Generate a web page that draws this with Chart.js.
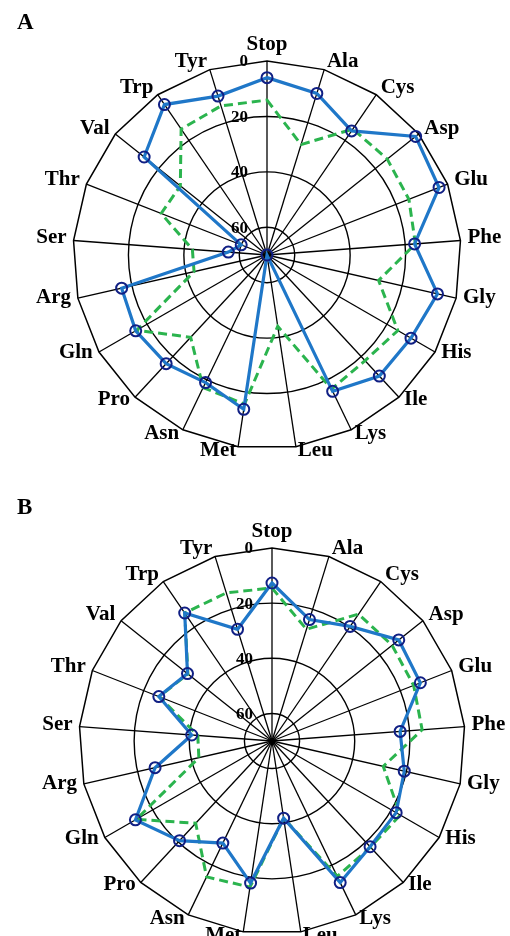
<!DOCTYPE html>
<html>
<head>
<meta charset="utf-8">
<script src="https://cdn.jsdelivr.net/npm/chart.js@4"></script>
<style>
    body { margin: 0; background: #fff; }
    .panel { position: absolute; left: 0; width: 510px; }
    #panelA { top: 0; height: 486px; }
    #panelB { top: 486px; height: 450px; }
</style>
</head>
<body>
<div class="panel" id="panelA"><canvas id="chartA" width="510" height="486"></canvas></div>
<div class="panel" id="panelB"><canvas id="chartB" width="510" height="450"></canvas></div>
<script>
/* =========================
   DATA
========================= */

const aminoAcids = ["Stop", "Ala", "Cys", "Asp", "Glu", "Phe", "Gly", "His", "Ile", "Lys", "Leu",
                    "Met", "Asn", "Pro", "Gln", "Arg", "Ser", "Thr", "Val", "Trp", "Tyr"];
const radialTicks = [0, 20, 40, 60];

// panel A
const blueA  = [6, 9, 15.8, 1.4, 3.3, 16.6, 6.9, 10, 10.4, 15.4, 70, 13.7, 18.9, 16.5, 15.3, 16.2, 56, 60, 13.3, 4.3, 10];
const greenA = [14.1, 28.3, 15, 14.5, 15, 16.3, 28.7, 15.5, 18, 16.3, 44, 15.6, 16.9, 29.5, 15.7, 43, 43, 29, 30, 15, 13.7];

// panel B
const blueB  = [12.7, 23.9, 19.7, 11.2, 12.2, 23.4, 20.8, 18, 17.7, 13, 41.7, 17.9, 28.9, 20.7, 12.8, 26.5, 40.8, 25.9, 30.8, 13.8, 27.6];
const greenB = [14.5, 27.6, 14.3, 14.3, 14.8, 15.4, 28.6, 16.3, 17.5, 15.5, 41.7, 16.4, 15.3, 29.3, 13.2, 42.8, 43, 26, 31, 13.8, 13.8];

/* =========================
   FRAME + TEXT PLUGIN
========================= */

const SERIF = "'Liberation Serif', 'Times New Roman', serif";

const polarDecor = {
    id: "polarDecor",
    beforeDatasetsDraw(chart) {
        const scale = chart.scales.r;
        const ctx = chart.ctx;
        ctx.save();

        // outer polygon
        ctx.beginPath();
        aminoAcids.forEach((_, i) => {
            const p = scale.getPointPosition(i, scale.drawingArea);
            if (i === 0) ctx.moveTo(p.x, p.y);
            else ctx.lineTo(p.x, p.y);
        });
        ctx.closePath();
        ctx.strokeStyle = "#000";
        ctx.lineWidth = 1.5;
        ctx.stroke();

        // small dot where the spokes meet
        ctx.beginPath();
        ctx.arc(scale.xCenter, scale.yCenter, 3, 0, Math.PI * 2);
        ctx.fillStyle = "#000";
        ctx.fill();

        // radial tick labels
        ctx.font = "bold 17px " + SERIF;
        ctx.textAlign = "right";
        ctx.textBaseline = "middle";
        radialTicks.forEach(v => {
            const d = scale.getDistanceFromCenterForValue(v);
            ctx.fillText(String(v), scale.xCenter - 19, scale.yCenter - d + 1);
        });

        ctx.restore();
    },
    afterDraw(chart, args, opts) {
        const scale = chart.scales.r;
        const ctx = chart.ctx;
        ctx.save();
        ctx.fillStyle = "#000";

        // category labels
        ctx.font = "bold 21px " + SERIF;
        aminoAcids.forEach((name, i) => {
            const p = scale.getPointPosition(i, scale.drawingArea + 6);
            if (i === 0) {
                ctx.textAlign = "center";
                ctx.textBaseline = "bottom";
                ctx.fillText(name, p.x, p.y);
                return;
            }
            ctx.textBaseline = "middle";
            if (p.x > scale.xCenter) {
                ctx.textAlign = "left";
                ctx.fillText(name, p.x + 1, p.y - 2);
            } else {
                ctx.textAlign = "right";
                ctx.fillText(name, p.x - 1, p.y - 2);
            }
        });

        // panel letter
        ctx.font = "bold 23px " + SERIF;
        ctx.textAlign = "left";
        ctx.textBaseline = "alphabetic";
        ctx.fillText(opts.letter, 17, opts.letterY);

        ctx.restore();
    }
};

/* =========================
   CHARTS
========================= */

function makeRadar(id, blue, green, pad, letter, letterY) {
    return new Chart(document.getElementById(id), {
        type: "radar",
        data: {
            labels: aminoAcids,
            datasets: [{
                label: "blue",
                data: blue,
                borderColor: "#1f77c8",
                borderWidth: 3.2,
                fill: false,
                tension: 0,
                pointRadius: 5.5,
                pointBorderWidth: 2,
                pointBorderColor: "#101f84",
                pointBackgroundColor: "rgba(0,0,0,0)"
            }, {
                label: "green",
                data: green,
                borderColor: "#2bb44e",
                borderWidth: 3,
                borderDash: [9, 5],
                fill: false,
                tension: 0,
                pointRadius: 0
            }]
        },
        options: {
            responsive: false,
            devicePixelRatio: 1,
            animation: false,
            events: [],
            layout: { padding: pad },
            plugins: {
                legend: { display: false },
                tooltip: { enabled: false },
                polarDecor: { letter: letter, letterY: letterY }
            },
            scales: {
                r: {
                    min: 0,
                    max: 70,
                    reverse: true,
                    ticks: { display: false, stepSize: 20 },
                    pointLabels: { display: false },
                    grid: {
                        circular: true,
                        lineWidth: 1.4,
                        color: c => (c.tick && c.tick.value === 0) ? "rgba(0,0,0,0)" : "#000"
                    },
                    angleLines: { color: "#000", lineWidth: 1.3 }
                }
            }
        },
        plugins: [polarDecor]
    });
}

makeRadar("chartA", blueA, greenA, { left: 73, right: 49, top: 61, bottom: 37 }, "A", 29);
makeRadar("chartB", blueB, greenB, { left: 79, right: 45, top: 62, bottom: 2 }, "B", 28);
</script>
</body>
</html>
